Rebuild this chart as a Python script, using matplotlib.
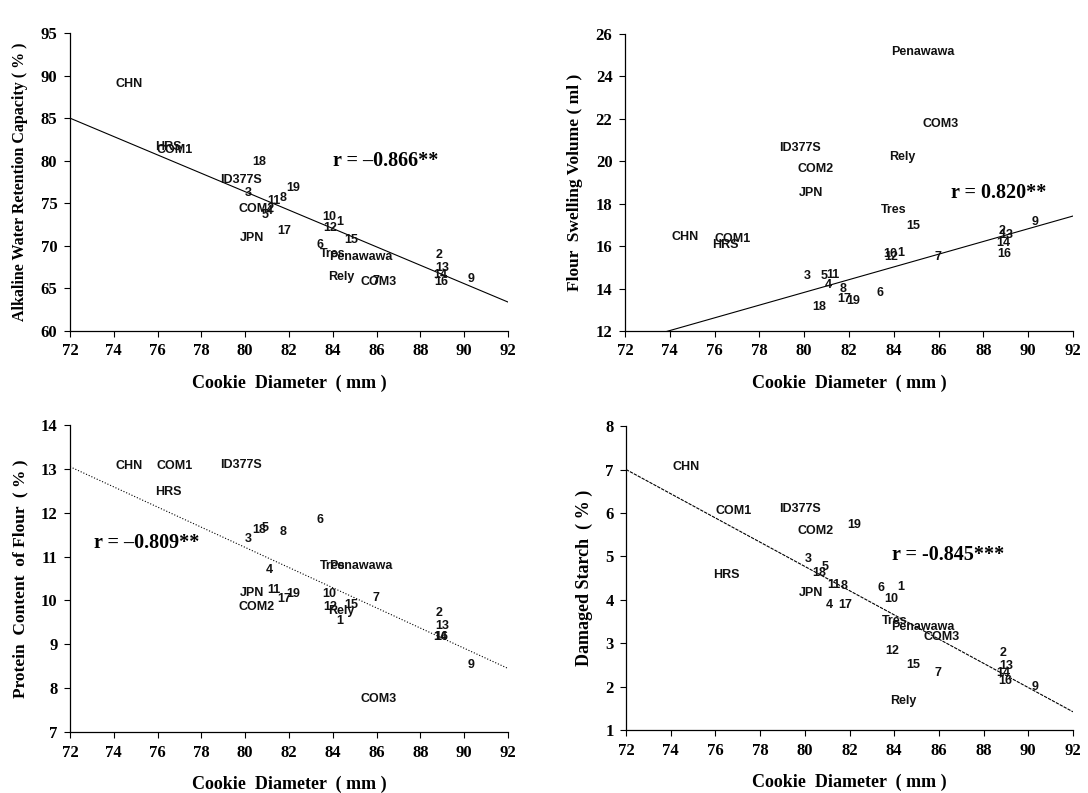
import matplotlib
matplotlib.use("Agg")
import matplotlib.pyplot as plt

# sample names (cultivars and breeding lines 1-19)
labels = ["CHN", "HRS", "COM1", "ID377S", "COM2", "JPN", "Tres", "Penawawa", "Rely", "COM3",
          "1", "2", "3", "4", "5", "6", "7", "8", "9", "10",
          "11", "12", "13", "14", "15", "16", "17", "18", "19"]

# cookie diameter (mm)
diameter = [74.7, 76.5, 76.8, 79.8, 80.5, 80.3, 84.0, 85.3, 84.4, 86.1,
            84.3, 88.85, 80.15, 81.1, 80.9, 83.4, 85.95, 81.75, 90.3, 83.85,
            81.3, 83.9, 89.0, 88.9, 84.85, 88.95, 81.8, 80.65, 82.2]

# alkaline water retention capacity (%)
awrc = [89.0, 81.6, 81.3, 77.7, 74.3, 70.9, 69.1, 68.7, 66.3, 65.8,
        72.8, 68.9, 76.2, 74.1, 73.6, 70.1, 65.9, 75.6, 66.1, 73.35,
        75.3, 72.1, 67.35, 66.6, 70.7, 65.8, 71.8, 79.9, 76.8]

# flour swelling volume (ml)
swelling = [16.41, 16.05, 16.32, 20.64, 19.62, 18.49, 17.70, 25.14, 20.21, 21.74,
            15.68, 16.72, 14.58, 14.16, 14.58, 13.80, 15.47, 14.0, 17.15, 15.62,
            14.66, 15.47, 16.52, 16.17, 16.96, 15.62, 13.5, 13.11, 13.42]

# protein content of flour (%)
protein = [13.07, 12.48, 13.07, 13.09, 9.85, 10.18, 10.78, 10.78, 9.75, 7.75,
           9.54, 9.72, 11.40, 10.70, 11.66, 11.84, 10.05, 11.55, 8.53, 10.15,
           10.23, 9.85, 9.42, 9.16, 9.9, 9.16, 10.04, 11.61, 10.14]

# damaged starch (%)
damaged = [7.06, 4.57, 6.05, 6.10, 5.59, 4.16, 3.51, 3.38, 1.66, 3.14,
           4.30, 2.78, 4.93, 3.87, 4.76, 4.26, 2.32, 4.31, 1.99, 4.01,
           4.33, 2.82, 2.47, 2.32, 2.49, 2.13, 3.87, 4.61, 5.73]

# trend line values at 72 and 92 mm
trend_x = [72, 92]
trend_awrc = [85.0, 63.4]
trend_swelling = [11.42, 17.42]
trend_protein = [13.05, 8.45]
trend_damaged = [7.0, 1.42]

serif = "Liberation Serif"
sans = "Liberation Sans"

fig = plt.figure(figsize=(10.88, 7.93), dpi=100)

panels = [
    # rect, y data, trend, ylim, yticks, ylabel, ylabel size, r text, r pos, line style
    ([0.0643, 0.5826, 0.4026, 0.3758], awrc, trend_awrc, (60, 95), range(60, 96, 5),
     "Alkaline Water Retention Capacity ( % )", 11.5, "r = \u20130.866**", (86.4, 80.0), "-"),
    ([0.5744, 0.5826, 0.4118, 0.3745], swelling, trend_swelling, (12, 26), range(12, 27, 2),
     "Flour  Swelling Volume ( ml )", 12.5, "r = 0.820**", (88.7, 18.5), "-"),
    ([0.0643, 0.0769, 0.4026, 0.3871], protein, trend_protein, (7, 14), range(7, 15),
     "Protein  Content  of Flour  ( % )", 12.5, "r = \u20130.809**", (75.5, 11.3), ":"),
    ([0.5754, 0.0794, 0.4108, 0.3833], damaged, trend_damaged, (1, 8), range(1, 9),
     "Damaged Starch  ( % )", 13, "r = -0.845***", (86.4, 5.03), (0, (3, 1))),
]

for rect, yvals, trend, ylim, yticks, ylabel, ylsize, rtext, rpos, ls in panels:
    ax = fig.add_axes(rect)
    ax.plot(trend_x, trend, color="black", lw=0.8, ls=ls)
    for name, x, y in zip(labels, diameter, yvals):
        ax.text(x, y, name, ha="center", va="center", fontsize=9,
                fontweight="bold", family=sans, color="#111111")
    ax.text(rpos[0], rpos[1], rtext, ha="center", va="center", fontsize=14.5,
            fontweight="bold", family=serif)
    ax.set_xlim(72, 92)
    ax.set_ylim(*ylim)
    ax.set_xticks(range(72, 93, 2))
    ax.set_yticks(list(yticks))
    for s in ["top", "right"]:
        ax.spines[s].set_visible(False)
    for s in ["left", "bottom"]:
        ax.spines[s].set_linewidth(0.9)
    ax.tick_params(direction="out", length=4, width=0.8, labelsize=12, pad=5)
    for t in ax.get_xticklabels() + ax.get_yticklabels():
        t.set_family(serif)
        t.set_fontweight("bold")
    ax.set_xlabel("Cookie  Diameter  ( mm )", family=serif, fontweight="bold",
                  fontsize=13, labelpad=11)
    ax.set_ylabel(ylabel, family=serif, fontweight="bold", fontsize=ylsize, labelpad=9)

fig.savefig("out.png", dpi=100)
